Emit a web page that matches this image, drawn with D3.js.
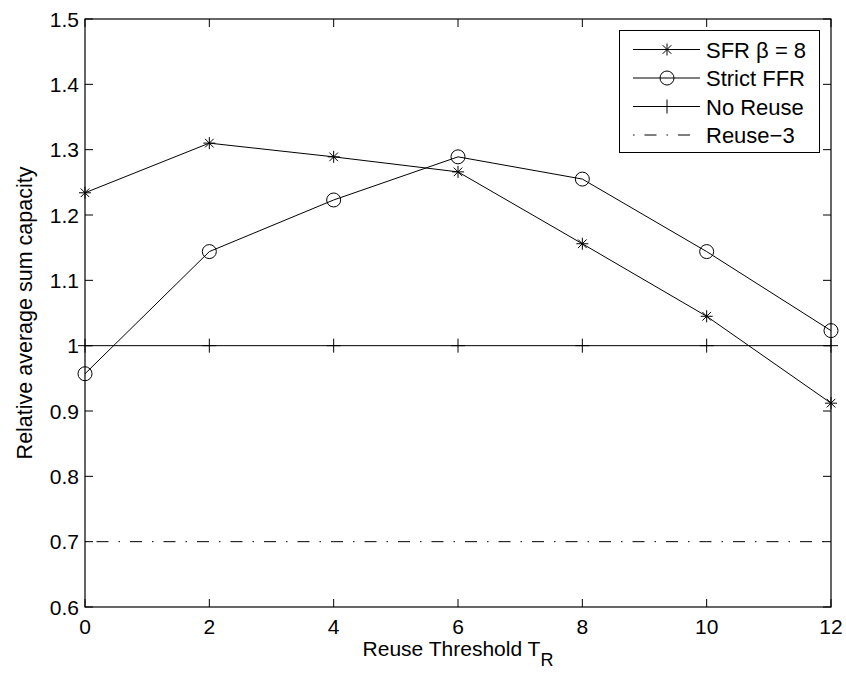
<!DOCTYPE html>
<html>
<head>
<meta charset="utf-8">
<script src="https://cdn.jsdelivr.net/npm/d3@7"></script>
<style>
  body { margin: 0; background: #fff; }
  text { font-family: "Liberation Sans", Arial, sans-serif; fill: #000; }
</style>
</head>
<body>
<svg id="chart" width="846" height="677"></svg>
<script>
const thresholds = [0, 2, 4, 6, 8, 10, 12];
const sfr = [1.234, 1.310, 1.289, 1.266, 1.156, 1.045, 0.912];
const strictFfr = [0.957, 1.144, 1.223, 1.289, 1.255, 1.144, 1.023];
const noReuse = [1, 1, 1, 1, 1, 1, 1];
const reuse3 = [0.7, 0.7, 0.7, 0.7, 0.7, 0.7, 0.7];
const xTicks = [0, 2, 4, 6, 8, 10, 12];
const yTicks = [0.6, 0.7, 0.8, 0.9, 1, 1.1, 1.2, 1.3, 1.4, 1.5];
const seriesNames = ["SFR \u03b2 = 8", "Strict FFR", "No Reuse", "Reuse\u22123"];

const svg = d3.select("#chart");
const pLeft = 85, pRight = 831, pTop = 19, pBottom = 607;

const x = d3.scaleLinear().domain([0, 12]).range([pLeft, pRight]);
const y = d3.scaleLinear().domain([0.6, 1.5]).range([pBottom, pTop]);

// frame
svg.append("rect")
  .attr("x", pLeft).attr("y", pTop)
  .attr("width", pRight - pLeft).attr("height", pBottom - pTop)
  .attr("fill", "none").attr("stroke", "#000").attr("stroke-width", 1.2);

const tickLen = 8;
// x ticks (inward, bottom and top)
xTicks.forEach(t => {
  svg.append("line").attr("x1", x(t)).attr("x2", x(t)).attr("y1", pBottom).attr("y2", pBottom - tickLen).attr("stroke", "#000");
  svg.append("line").attr("x1", x(t)).attr("x2", x(t)).attr("y1", pTop).attr("y2", pTop + tickLen).attr("stroke", "#000");
  svg.append("text")
    .attr("x", x(t)).attr("y", pBottom + 27)
    .attr("text-anchor", "middle")
    .style("font-size", "21px")
    .text(t);
});
// y ticks
yTicks.forEach(t => {
  svg.append("line").attr("x1", pLeft).attr("x2", pLeft + tickLen).attr("y1", y(t)).attr("y2", y(t)).attr("stroke", "#000");
  svg.append("line").attr("x1", pRight).attr("x2", pRight - tickLen).attr("y1", y(t)).attr("y2", y(t)).attr("stroke", "#000");
  svg.append("text")
    .attr("x", pLeft - 6).attr("y", y(t) + 7.5)
    .attr("text-anchor", "end")
    .style("font-size", "21px")
    .text(d3.format("")(t));
});

// axis labels
const xl = svg.append("text")
  .attr("x", 458).attr("y", 656)
  .attr("text-anchor", "middle")
  .style("font-size", "21px");
xl.append("tspan").text("Reuse Threshold T");
xl.append("tspan").attr("dy", 10).style("font-size", "18px").text("R");

svg.append("text")
  .attr("transform", `translate(32,${(pTop + pBottom) / 2}) rotate(-90)`)
  .attr("text-anchor", "middle")
  .style("font-size", "21.5px")
  .text("Relative average sum capacity");

const line = d3.line().x((d, i) => x(thresholds[i])).y(d => y(d));

// markers
const star = (g, cx, cy) => {
  const r = 6;
  const p = g.append("g").attr("transform", `translate(${cx},${cy})`).attr("stroke", "#000").attr("stroke-width", 1);
  p.append("line").attr("x1", -r).attr("x2", r).attr("y1", 0).attr("y2", 0);
  p.append("line").attr("x1", 0).attr("x2", 0).attr("y1", -r).attr("y2", r);
  const d = r * 0.72;
  p.append("line").attr("x1", -d).attr("x2", d).attr("y1", -d).attr("y2", d);
  p.append("line").attr("x1", -d).attr("x2", d).attr("y1", d).attr("y2", -d);
};
const circle = (g, cx, cy) => {
  g.append("circle").attr("cx", cx).attr("cy", cy).attr("r", 7)
    .attr("fill", "none").attr("stroke", "#000").attr("stroke-width", 1);
};
const plus = (g, cx, cy) => {
  const r = 7;
  const p = g.append("g").attr("transform", `translate(${cx},${cy})`).attr("stroke", "#000").attr("stroke-width", 1);
  p.append("line").attr("x1", -r).attr("x2", r).attr("y1", 0).attr("y2", 0);
  p.append("line").attr("x1", 0).attr("x2", 0).attr("y1", -r).attr("y2", r);
};

const series = [
  { name: seriesNames[0], values: sfr, marker: star, dash: null },
  { name: seriesNames[1], values: strictFfr, marker: circle, dash: null },
  { name: seriesNames[2], values: noReuse, marker: plus, dash: null },
  { name: seriesNames[3], values: reuse3, marker: null, dash: "1.5,10,12,10" }
];

const plot = svg.append("g");
series.forEach(s => {
  plot.append("path")
    .datum(s.values)
    .attr("d", line)
    .attr("fill", "none")
    .attr("stroke", "#000")
    .attr("stroke-width", 1)
    .attr("stroke-dasharray", s.dash);
  if (s.marker) s.values.forEach((v, i) => s.marker(plot, x(thresholds[i]), y(v)));
});

// legend
const lg = svg.append("g");
lg.append("rect")
  .attr("x", 619.5).attr("y", 30.5).attr("width", 200).attr("height", 122)
  .attr("fill", "#fff").attr("stroke", "#000").attr("stroke-width", 1);
series.forEach((s, i) => {
  const cy = 49.5 + i * 28.5;
  lg.append("line")
    .attr("x1", 633).attr("x2", 700).attr("y1", cy).attr("y2", cy)
    .attr("stroke", "#000").attr("stroke-width", 1)
    .attr("stroke-dasharray", s.dash);
  if (s.marker) s.marker(lg, 667, cy);
  lg.append("text")
    .attr("x", 706).attr("y", cy + 8)
    .style("font-size", "22px")
    .text(s.name);
});
</script>
</body>
</html>
